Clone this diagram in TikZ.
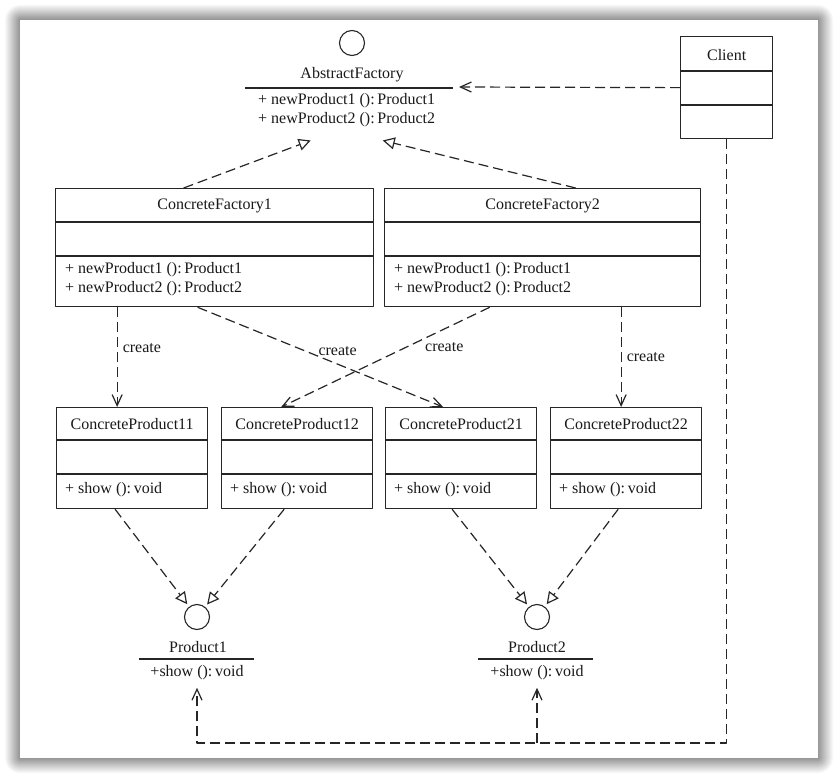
\documentclass[tikz,border=0pt]{standalone}
\usepackage{fontspec}
\setmainfont{Liberation Serif}
\usetikzlibrary{arrows.meta,calc}

\tikzset{
  rule/.style={draw=black!85, line width=1.3pt},
  classbox/.style={rule, anchor=north west, inner sep=0pt},
  iface/.style={circle, rule, line width=1.1pt, minimum size=25pt, inner sep=0pt},
  ops/.style={anchor=west, align=left, inner sep=0pt},
  dep/.style={rule, line width=1.2pt, dash pattern=on 10pt off 5pt, -{Straight Barb[length=11pt,width=10pt]}},
  real/.style={rule, line width=1.2pt, dash pattern=on 10pt off 5pt, -{Triangle[open,length=12pt,width=12pt]}}
}

\begin{document}
\begin{tikzpicture}[x=1pt, y=-1pt, font=\fontsize{16}{19}\selectfont, text=black!90, line join=round]
\useasboundingbox (0,0) rectangle (838,778);
\foreach \i in {15,14,...,1}{
  \pgfmathsetmacro\g{2.7*(16-\i)}
  \fill[black!\g, rounded corners=\i pt] (20-\i,20-\i) rectangle (818+\i,758+\i);
}
\fill[white] (20,20) rectangle (818,758);

\node[iface] (afc) at (352,43) {};
\node (af) at (352,75) {AbstractFactory};
\draw[rule] (245,88) -- (453,88);
\node[ops] (afm) at (258,110.5) {+ newProduct1 ():\,Product1\\+ newProduct2 ():\,Product2};
\coordinate (afhook) at (459,87);

\node[classbox, minimum width=92pt, minimum height=102pt] (client) at (680,36) {};
\node[yshift=-19pt] (clientname) at (client.north) {Client};
\draw[rule] ([yshift=-35pt]client.north west) -- ([yshift=-35pt]client.north east);
\draw[rule] ([yshift=-69pt]client.north west) -- ([yshift=-69pt]client.north east);

\node[classbox, minimum width=318pt, minimum height=118pt] (cf1) at (55,188) {};
\node[yshift=-18pt] (cf1name) at (cf1.north) {ConcreteFactory1};
\draw[rule] ([yshift=-34pt]cf1.north west) -- ([yshift=-34pt]cf1.north east);
\draw[rule] ([yshift=-68pt]cf1.north west) -- ([yshift=-68pt]cf1.north east);
\node[ops] (cf1ops) at ([xshift=10pt, yshift=-91pt]cf1.north west) {+ newProduct1 ():\,Product1\\+ newProduct2 ():\,Product2};

\node[classbox, minimum width=316pt, minimum height=118pt] (cf2) at (384,188) {};
\node[yshift=-18pt] (cf2name) at (cf2.north) {ConcreteFactory2};
\draw[rule] ([yshift=-34pt]cf2.north west) -- ([yshift=-34pt]cf2.north east);
\draw[rule] ([yshift=-68pt]cf2.north west) -- ([yshift=-68pt]cf2.north east);
\node[ops] (cf2ops) at ([xshift=10pt, yshift=-91pt]cf2.north west) {+ newProduct1 ():\,Product1\\+ newProduct2 ():\,Product2};

\foreach \nm/\lbl/\x in {cp11/ConcreteProduct11/56, cp12/ConcreteProduct12/221, cp21/ConcreteProduct21/385, cp22/ConcreteProduct22/550}{
  \node[classbox, minimum width=151pt, minimum height=101pt] (\nm) at (\x,407) {};
  \node[yshift=-17pt] (\nm-name) at (\nm.north) {\lbl};
  \draw[rule] ([yshift=-33pt]\nm.north west) -- ([yshift=-33pt]\nm.north east);
  \draw[rule] ([yshift=-67pt]\nm.north west) -- ([yshift=-67pt]\nm.north east);
  \node[ops] (\nm-ops) at ([xshift=9pt, yshift=-83pt]\nm.north west) {+ show ():\,void};
}

\node[iface] (p1c) at (197,617) {};
\node (p1) at (198,647) {Product1};
\draw[rule] (139,659) -- (254,659);
\node (p1m) at (197,673) {+show ():\,void};

\node[iface] (p2c) at (537,617) {};
\node (p2) at (537,647) {Product2};
\draw[rule] (478,659) -- (593,659);
\node (p2m) at (537,673) {+show ():\,void};

\draw[real] ([xshift=-31pt]cf1.north) -- ([xshift=-36pt, yshift=-13pt]afm.south);
\draw[real] ([xshift=33pt]cf2.north) -- ([xshift=36pt, yshift=-13pt]afm.south);
\draw[dep] (client.west) -- (afhook);

\draw[dep] ([xshift=-15pt]cp11.north |- cf1.south) -- node[pos=0.41, right=1.7pt] (c1) {create} ([xshift=-15pt]cp11.north);
\draw[dep] ([xshift=-17pt]cf1.south) -- node[pos=0.57, above=5pt] (c2) {create} ([xshift=-18pt]cp21.north);
\draw[dep] ([xshift=-53pt]cf2.south) -- node[pos=0.4, right=15pt] (c3) {create} ([xshift=-16pt]cp12.north);
\draw[dep] ([xshift=-5pt]cp22.north |- cf2.south) -- node[pos=0.5, right=1.7pt] (c4) {create} ([xshift=-5pt]cp22.north);

\draw[real, shorten >=3pt] ([xshift=-17pt]cp11.south) -- (p1c);
\draw[real, shorten >=3pt] ([xshift=-13pt]cp12.south) -- (p1c);
\draw[real, shorten >=3pt] ([xshift=-9pt]cp21.south) -- (p2c);
\draw[real, shorten >=3pt] ([xshift=-8pt]cp22.south) -- (p2c);

\coordinate (bus) at (197,743);
\draw[dep] (client.south) |- (bus) -- ([yshift=-4pt]p1m.south);
\draw[dep] (p2m.south |- bus) -- ([yshift=-4pt]p2m.south);
\end{tikzpicture}
\end{document}
